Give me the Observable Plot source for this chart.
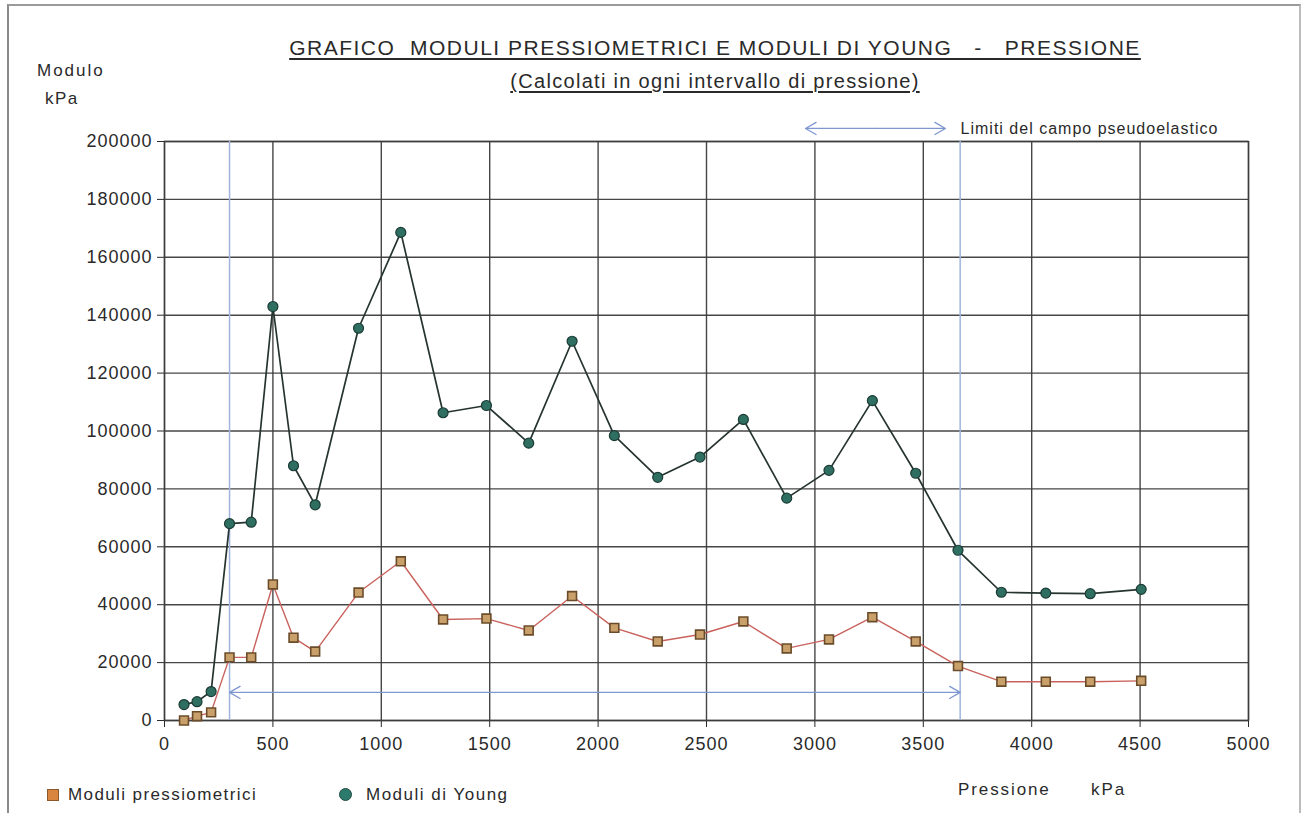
<!DOCTYPE html>
<html>
<head>
<meta charset="utf-8">
<script src="https://cdn.jsdelivr.net/npm/d3@7"></script>
<script src="https://cdn.jsdelivr.net/npm/@observablehq/plot@0.6"></script>
<style>
  html, body { margin: 0; padding: 0; background: #fff; }
  body { font-family: "Liberation Sans", Arial, sans-serif; color: #2a2a2a; }
  #page { position: relative; width: 1303px; height: 813px; overflow: hidden; }
  #border { position: absolute; left: 7px; top: 4px; width: 1290px; height: 820px; border-left: 2px solid #8a8a8a; border-top: 2px solid #9a9a9a; border-right: 2px solid #bbb; }
  .abs { position: absolute; white-space: nowrap; }
  #title { left: 270px; width: 890px; top: 36px; text-align: center; font-size: 21px; letter-spacing: 1.5px; text-decoration: underline; text-underline-offset: 3px; }
  #subtitle { left: 470px; width: 490px; top: 70px; text-align: center; font-size: 20px; letter-spacing: 1.3px; text-decoration: underline; text-underline-offset: 3px; }
  #ylab1 { left: 37px; top: 61px; font-size: 17px; letter-spacing: 2px; }
  #ylab2 { left: 45px; top: 89px; font-size: 17px; letter-spacing: 1.5px; }
  #chart { position: absolute; left: 0; top: 110px; }
  .leg { font-size: 17px; top: 785px; letter-spacing: 1.4px; }
  .sw { position: absolute; }
</style>
</head>
<body>
<div id="page">
  <div id="border"></div>
  <div id="title" class="abs">GRAFICO&nbsp; MODULI PRESSIOMETRICI E MODULI DI YOUNG &nbsp; - &nbsp; PRESSIONE</div>
  <div id="subtitle" class="abs">(Calcolati in ogni intervallo di pressione)</div>
  <div id="ylab1" class="abs">Modulo</div>
  <div id="ylab2" class="abs">kPa</div>
  <div id="chart"></div>
  <div class="sw" style="left:47px; top:789px; width:10px; height:10px; background:#d9843f; border:1px solid #8a5a2a;"></div>
  <div class="abs leg" style="left:68px;">Moduli pressiometrici</div>
  <div class="sw" style="left:339px; top:788px; width:11px; height:11px; border-radius:50%; background:#2b7a6c; border:1px solid #1f4a42;"></div>
  <div class="abs leg" style="left:366px; letter-spacing:1.5px;">Moduli di Young</div>
  <div class="abs leg" style="left:958px; top:780px; letter-spacing:1.9px;">Pressione</div>
  <div class="abs leg" style="left:1091px; top:780px; letter-spacing:2px;">kPa</div>
</div>
<script>
// Pressure (kPa) at which each modulus was computed
const pressione = [90, 150, 215, 300, 400, 500, 595, 695, 895, 1090, 1285, 1485, 1680, 1880, 2075, 2275, 2470, 2670, 2870, 3065, 3265, 3465, 3660, 3860, 4065, 4270, 4505];
// Moduli di Young (kPa)
const moduliYoung = [5500, 6500, 10000, 68000, 68500, 143000, 88000, 74500, 135500, 168600, 106300, 108800, 95800, 131000, 98400, 84000, 91000, 104000, 76800, 86400, 110500, 85400, 58800, 44300, 44000, 43800, 45300];
// Moduli pressiometrici (kPa)
const moduliPress = [0, 1500, 2800, 21800, 21800, 47000, 28600, 23800, 44200, 55000, 34900, 35200, 31100, 43000, 32000, 27300, 29700, 34200, 24900, 28000, 35700, 27300, 18800, 13400, 13400, 13400, 13700];

const xTicks = [0, 500, 1000, 1500, 2000, 2500, 3000, 3500, 4000, 4500, 5000];
const yTicks = [0, 20000, 40000, 60000, 80000, 100000, 120000, 140000, 160000, 180000, 200000];

// Limits of the pseudo-elastic range (kPa)
const limitiCampo = [300, 3670];
const limitiArrowY = 9700;
const legendArrow = {x1: 2957, x2: 3602, y: 204500};
const legendText = "Limiti del campo pseudoelastico";

const data = pressione.map((p, i) => ({p, young: moduliYoung[i], press: moduliPress[i]}));
const midL = (limitiCampo[0] + limitiCampo[1]) / 2;
const bottomArrows = [
  {x1: midL, x2: limitiCampo[0], y: limitiArrowY},
  {x1: midL, x2: limitiCampo[1], y: limitiArrowY}
];
const midT = (legendArrow.x1 + legendArrow.x2) / 2;
const topArrows = [
  {x1: midT, x2: legendArrow.x1, y: legendArrow.y},
  {x1: midT, x2: legendArrow.x2, y: legendArrow.y}
];

const gridColor = "#3c3c3c";
const blue = "#7f97cf";

const chart = Plot.plot({
  width: 1303,
  height: 660,
  marginLeft: 164,
  marginRight: 55,
  marginTop: 31,
  marginBottom: 50,
  style: {fontFamily: "'Liberation Sans', Arial, sans-serif", fontSize: "18px", letterSpacing: "1px", color: "#2a2a2a", background: "transparent", overflow: "visible"},
  x: {domain: [0, 5000], ticks: xTicks, tickFormat: d => String(d), tickSize: 7, tickPadding: 10, label: null},
  y: {domain: [0, 200000], ticks: yTicks, tickFormat: d => String(d), tickSize: 7, tickPadding: 5, label: null},
  marks: [
    Plot.gridX(xTicks, {stroke: gridColor, strokeOpacity: 0.95, strokeWidth: 1.4}),
    Plot.gridY(yTicks, {stroke: gridColor, strokeOpacity: 0.95, strokeWidth: 1.4}),
    Plot.frame({stroke: gridColor, strokeWidth: 1.4}),
    Plot.ruleX(limitiCampo, {stroke: "#9fb3dc", strokeWidth: 1.5}),
    Plot.arrow(bottomArrows, {x1: "x1", x2: "x2", y1: "y", y2: "y", stroke: blue, strokeWidth: 1.3, headLength: 14, headAngle: 60, bend: 0}),
    Plot.arrow(topArrows, {x1: "x1", x2: "x2", y1: "y", y2: "y", stroke: blue, strokeWidth: 1.3, headLength: 14, headAngle: 60, bend: 0}),
    Plot.text([legendText], {x: legendArrow.x2 + 70, y: legendArrow.y, text: d => d, textAnchor: "start", fontSize: 16, fill: "#2a2a2a", style: {letterSpacing: "1.6px"}}),
    Plot.line(data, {x: "p", y: "press", stroke: "#c9625c", strokeWidth: 1.4}),
    Plot.dot(data, {x: "p", y: "press", symbol: "square", r: 5, fill: "#c9a06a", stroke: "#6b4c2a", strokeWidth: 1.6}),
    Plot.line(data, {x: "p", y: "young", stroke: "#253430", strokeWidth: 1.7}),
    Plot.dot(data, {x: "p", y: "young", symbol: "circle", r: 5, fill: "#2f6f62", stroke: "#1c3b35", strokeWidth: 1.2})
  ]
});
document.getElementById("chart").appendChild(chart);
</script>
</body>
</html>
